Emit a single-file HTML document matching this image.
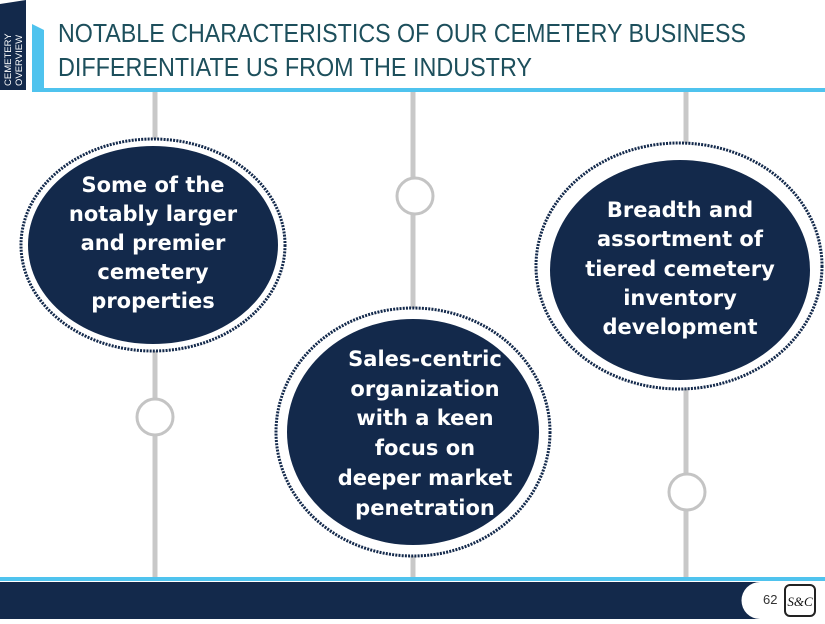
<!DOCTYPE html>
<html><head><meta charset="utf-8"><style>
body{margin:0;width:825px;height:619px;overflow:hidden;background:#fff;font-family:"Liberation Sans","DejaVu Sans",sans-serif;}
</style></head><body>
<svg width="825" height="619" viewBox="0 0 825 619" xmlns="http://www.w3.org/2000/svg">
<polygon points="0,4 26,0 26,90 0,90" fill="#13294b"/>
<text transform="translate(11,86) rotate(-90)" font-size="9.5" fill="#fff" font-family="Liberation Sans,sans-serif">CEMETERY</text>
<text transform="translate(22,86) rotate(-90)" font-size="9.5" fill="#fff" font-family="Liberation Sans,sans-serif">OVERVIEW</text>
<polygon points="32,24 44,30 44,90 32,90" fill="#4fc3ee"/>
<rect x="32" y="88" width="793" height="4" fill="#4fc3ee"/>
<text x="58" y="42" font-size="26" fill="#1d4f5c" font-family="Liberation Sans,sans-serif" textLength="688" lengthAdjust="spacingAndGlyphs">NOTABLE CHARACTERISTICS OF OUR CEMETERY BUSINESS</text>
<text x="58" y="76" font-size="26" fill="#1d4f5c" font-family="Liberation Sans,sans-serif" textLength="474" lengthAdjust="spacingAndGlyphs">DIFFERENTIATE US FROM THE INDUSTRY</text>
<g stroke="#c8c8c8" stroke-width="5" fill="none">
<line x1="155" y1="92" x2="155" y2="580"/>
<line x1="413" y1="92" x2="413" y2="580"/>
<line x1="686" y1="92" x2="686" y2="580"/>
</g>
<g stroke="#c4c4c4" stroke-width="3" fill="#fff">
<circle cx="155" cy="417" r="18"/>
<circle cx="415" cy="196" r="18"/>
<circle cx="687" cy="492" r="18"/>
</g>
<g fill="#fff" stroke="#13294b" stroke-width="3" stroke-dasharray="2 1.2">
<ellipse cx="153" cy="245" rx="132" ry="106"/>
<ellipse cx="413" cy="432" rx="137" ry="124"/>
<ellipse cx="679" cy="266" rx="143" ry="123"/>
</g>
<g fill="#13294b">
<ellipse cx="153" cy="245" rx="125" ry="99"/>
<ellipse cx="413" cy="432" rx="126" ry="113"/>
<ellipse cx="680" cy="270" rx="130" ry="110"/>
</g>
<g fill="#fff" font-size="21" font-weight="bold" text-anchor="middle" font-family="DejaVu Sans,Liberation Sans,sans-serif">
<text x="153" y="192">Some of the</text>
<text x="153" y="221">notably larger</text>
<text x="153" y="250">and premier</text>
<text x="153" y="279">cemetery</text>
<text x="153" y="308">properties</text>
<text x="425" y="366">Sales-centric</text>
<text x="425" y="396">organization</text>
<text x="425" y="425">with a keen</text>
<text x="425" y="455">focus on</text>
<text x="425" y="485">deeper market</text>
<text x="425" y="515">penetration</text>
<text x="680" y="217">Breadth and</text>
<text x="680" y="246">assortment of</text>
<text x="680" y="276">tiered cemetery</text>
<text x="680" y="305">inventory</text>
<text x="680" y="334">development</text>
</g>
<rect x="0" y="577" width="825" height="4" fill="#4fc3ee"/>
<rect x="0" y="582" width="825" height="37" fill="#13294b"/>
<path d="M760,582 H825 V619 H760 A18,18 0 0 1 760,582 Z" fill="#fff"/>
<text x="763" y="604" font-size="13" fill="#333" font-family="Liberation Sans,sans-serif">62</text>
<rect x="785" y="585" width="30" height="31" rx="5" fill="#fff" stroke="#222" stroke-width="2"/>
<text x="800" y="606" font-size="13" font-style="italic" text-anchor="middle" font-family="Liberation Serif,serif" fill="#111">S&amp;C</text>
</svg>
</body></html>
